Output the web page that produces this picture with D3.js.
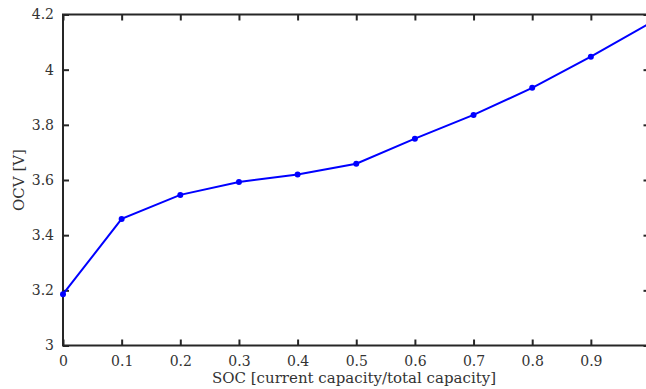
<!DOCTYPE html>
<html><head><meta charset="utf-8">
<script src="https://cdn.jsdelivr.net/npm/d3@7"></script>
<style>body{margin:0;background:#fff}svg{display:block}text{font-family:"DejaVu Serif",serif;fill:#333}</style>
</head><body><svg id="c" width="646" height="389"></svg>
<script>
const soc = [0,0.1,0.2,0.3,0.4,0.5,0.6,0.7,0.8,0.9,1.0];
const ocv = [3.186,3.459,3.546,3.593,3.620,3.659,3.750,3.836,3.934,4.047,4.168];
const xTicks = [0,0.1,0.2,0.3,0.4,0.5,0.6,0.7,0.8,0.9];
const yTicks = [3,3.2,3.4,3.6,3.8,4,4.2];

const svg = d3.select("#c");
const L=63, T=14.5, R=649.5, B=345.5;
const x = d3.scaleLinear().domain([0,1]).range([L,R]);
const y = d3.scaleLinear().domain([3,4.2]).range([B,T]);
const ax = "#262626";

svg.append("rect").attr("x",L).attr("y",T).attr("width",R-L).attr("height",B-T)
  .attr("fill","none").attr("stroke",ax).attr("stroke-width",2);

const gb = svg.append("g").attr("transform",`translate(0,${B})`)
  .call(d3.axisBottom(x).tickValues(xTicks).tickSize(-6).tickPadding(11).tickFormat(d=>String(d)));
const gt = svg.append("g").attr("transform",`translate(0,${T})`)
  .call(d3.axisTop(x).tickValues(xTicks).tickSize(-6).tickFormat(""));
const gl = svg.append("g").attr("transform",`translate(${L},0)`)
  .call(d3.axisLeft(y).tickValues(yTicks).tickSize(-6).tickPadding(9).tickFormat(d=>String(d)));
const gr = svg.append("g").attr("transform",`translate(${R},0)`)
  .call(d3.axisRight(y).tickValues(yTicks).tickSize(-6).tickFormat(""));
[gb,gt,gl,gr].forEach(g=>{
  g.select(".domain").remove();
  g.selectAll(".tick line").attr("stroke",ax).attr("stroke-width",2);
  g.selectAll("text").attr("font-size",14).attr("fill","#333")
   .style("font-family",'"DejaVu Serif",serif');
});

const line = d3.line().x((d,i)=>x(soc[i])).y(d=>y(d));
svg.append("path").datum(ocv).attr("d",line).attr("fill","none")
  .attr("stroke","#0000ff").attr("stroke-width",2);
svg.selectAll("circle.pt").data(ocv).enter().append("circle")
  .attr("cx",(d,i)=>x(soc[i])).attr("cy",d=>y(d)).attr("r",3).attr("fill","#0000ff");

svg.append("text").attr("x",354).attr("y",383).attr("text-anchor","middle")
  .attr("font-size",15).text("SOC [current capacity/total capacity]");
svg.append("text").attr("transform",`translate(24,180) rotate(-90)`)
  .attr("text-anchor","middle").attr("font-size",15).text("OCV [V]");
</script></body></html>
